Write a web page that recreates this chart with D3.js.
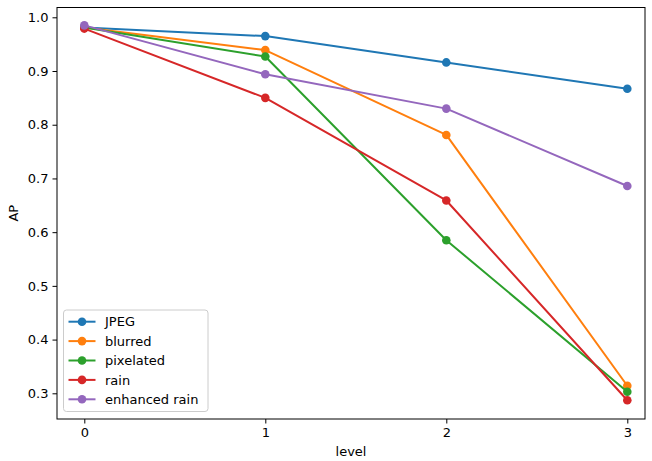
<!DOCTYPE html>
<html>
<head>
<meta charset="utf-8">
<script src="https://cdn.jsdelivr.net/npm/d3@7"></script>
<style>
  body { margin: 0; background: #fff; }
  svg { font-family: "DejaVu Sans", sans-serif; }
</style>
</head>
<body>
<div id="container"></div>
<script>
const width = 652;
const height = 461;

// Plot frame (pixels)
const frame = { left: 57, right: 645, top: 7.5, bottom: 419 };

// Data
const levels = [0, 1, 2, 3];
const seriesNames = ["JPEG", "blurred", "pixelated", "rain", "enhanced rain"];
const jpeg = [0.981, 0.965, 0.916, 0.867];
const blurred = [0.981, 0.939, 0.781, 0.314];
const pixelated = [0.981, 0.927, 0.585, 0.303];
const rain = [0.979, 0.850, 0.659, 0.287];
const enhancedRain = [0.985, 0.894, 0.830, 0.686];
const yTicks = [0.3, 0.4, 0.5, 0.6, 0.7, 0.8, 0.9, 1.0];

const colours = ["#1f77b4", "#ff7f0e", "#2ca02c", "#d62728", "#9467bd"];
const allSeries = [jpeg, blurred, pixelated, rain, enhancedRain];

const svg = d3
  .select("#container")
  .append("svg")
  .attr("width", width)
  .attr("height", height);

// Scales
const xScale = d3.scaleLinear().domain([0, 3]).range([84.3, 627.3]);
const yScale = d3.scaleLinear().domain([0.3, 1.0]).range([393.3, 17.3]);

// Axes
const xAxis = d3
  .axisBottom(xScale)
  .tickValues(levels)
  .tickFormat(d3.format("d"))
  .tickSize(4.5)
  .tickPadding(4);

const yAxis = d3
  .axisLeft(yScale)
  .tickValues(yTicks)
  .tickFormat(d3.format(".1f"))
  .tickSize(4.5)
  .tickPadding(4);

const gx = svg
  .append("g")
  .attr("transform", `translate(0, ${frame.bottom})`)
  .call(xAxis);
gx.select(".domain").remove();

const gy = svg
  .append("g")
  .attr("transform", `translate(${frame.left}, 0)`)
  .call(yAxis);
gy.select(".domain").remove();

svg.selectAll(".tick text")
  .attr("font-size", 13)
  .attr("font-family", "DejaVu Sans, sans-serif")
  .attr("fill", "#000");
svg.selectAll(".tick line").attr("stroke", "#000").attr("stroke-width", 1);

// Lines and markers
const line = d3
  .line()
  .x((d, i) => xScale(levels[i]))
  .y((d) => yScale(d));

allSeries.forEach((values, i) => {
  svg
    .append("path")
    .datum(values)
    .attr("fill", "none")
    .attr("stroke", colours[i])
    .attr("stroke-width", 2)
    .attr("stroke-linejoin", "round")
    .attr("d", line);

  svg
    .selectAll(null)
    .data(values)
    .enter()
    .append("circle")
    .attr("cx", (d, j) => xScale(levels[j]))
    .attr("cy", (d) => yScale(d))
    .attr("r", 4.3)
    .attr("fill", colours[i]);
});

// Frame
svg
  .append("rect")
  .attr("x", frame.left)
  .attr("y", frame.top)
  .attr("width", frame.right - frame.left)
  .attr("height", frame.bottom - frame.top)
  .attr("fill", "none")
  .attr("stroke", "#000")
  .attr("stroke-width", 1);

// Axis labels
svg
  .append("text")
  .attr("x", (frame.left + frame.right) / 2)
  .attr("y", 456)
  .attr("text-anchor", "middle")
  .attr("font-size", 13)
  .text("level");

svg
  .append("text")
  .attr("transform", `translate(18, ${(frame.top + frame.bottom) / 2}) rotate(-90)`)
  .attr("text-anchor", "middle")
  .attr("font-size", 13)
  .text("AP");

// Legend
const legend = svg.append("g");
legend
  .append("rect")
  .attr("x", 63.5)
  .attr("y", 310)
  .attr("width", 144.5)
  .attr("height", 101.5)
  .attr("rx", 3)
  .attr("fill", "#fff")
  .attr("fill-opacity", 0.8)
  .attr("stroke", "#cccccc")
  .attr("stroke-width", 1);

seriesNames.forEach((name, i) => {
  const y = 321.7 + i * 19.4;
  legend
    .append("line")
    .attr("x1", 68.5)
    .attr("x2", 95.5)
    .attr("y1", y)
    .attr("y2", y)
    .attr("stroke", colours[i])
    .attr("stroke-width", 2);
  legend
    .append("circle")
    .attr("cx", 82)
    .attr("cy", y)
    .attr("r", 4.3)
    .attr("fill", colours[i]);
  legend
    .append("text")
    .attr("x", 105)
    .attr("y", y + 4.7)
    .attr("font-size", 13)
    .text(name);
});
</script>
</body>
</html>
